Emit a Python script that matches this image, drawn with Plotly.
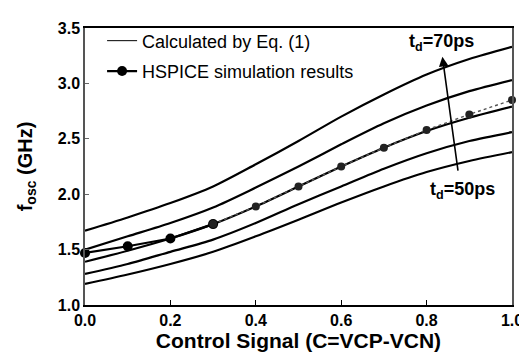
import plotly.graph_objects as go

# Control signal values
control = [0.0, 0.1, 0.2, 0.3, 0.4, 0.5, 0.6, 0.7, 0.8, 0.9, 1.0]

# Curves calculated by Eq. (1), from top (td=70ps label) to bottom (td=50ps label)
calc_1 = [1.67, 1.79, 1.92, 2.07, 2.27, 2.48, 2.70, 2.90, 3.08, 3.22, 3.33]
calc_2 = [1.50, 1.62, 1.74, 1.88, 2.06, 2.25, 2.45, 2.64, 2.80, 2.93, 3.03]
calc_3 = [1.39, 1.49, 1.60, 1.73, 1.89, 2.07, 2.25, 2.42, 2.57, 2.69, 2.79]
calc_4 = [1.28, 1.37, 1.48, 1.59, 1.74, 1.91, 2.07, 2.23, 2.37, 2.48, 2.56]
calc_5 = [1.19, 1.275, 1.37, 1.48, 1.62, 1.77, 1.925, 2.07, 2.20, 2.30, 2.38]

# HSPICE simulation results
hspice = [1.47, 1.53, 1.60, 1.73, 1.89, 2.07, 2.25, 2.42, 2.58, 2.72, 2.85]

y_ticks = [1.0, 1.5, 2.0, 2.5, 3.0, 3.5]
x_ticks = [0.0, 0.2, 0.4, 0.6, 0.8, 1.0]

FONT = "Liberation Sans, Arial, sans-serif"

fig = go.Figure()

for i, c in enumerate([calc_1, calc_2, calc_3, calc_4, calc_5]):
    fig.add_trace(go.Scatter(
        x=control, y=c, mode="lines",
        line=dict(color="black", width=2.2, shape="spline", smoothing=0.8),
        showlegend=False, hoverinfo="skip"))

# legend entry for Eq. (1) with thin line
fig.add_trace(go.Scatter(
    x=[None], y=[None], mode="lines",
    line=dict(color="black", width=1),
    name="Calculated by Eq. (1)", legendgroup="a"))

# HSPICE: heavy segment at the start, lighter afterwards
fig.add_trace(go.Scatter(
    x=control[:4], y=hspice[:4], mode="lines+markers",
    line=dict(color="black", width=2.2),
    marker=dict(color="black", size=10),
    name="HSPICE simulation results", legendgroup="b",
    cliponaxis=False))
fig.add_trace(go.Scatter(
    x=control[3:], y=hspice[3:], mode="lines+markers",
    line=dict(color="#555555", width=1.4, dash="dot"),
    marker=dict(color="#222222", size=8),
    showlegend=False, cliponaxis=False))

# arrow between td labels
fig.add_annotation(x=0.837, y=3.24, ax=0.874, ay=2.2, xref="x", yref="y",
                   axref="x", ayref="y", text="", showarrow=True,
                   arrowhead=2, arrowsize=1.2, arrowwidth=1.6, arrowcolor="black")
fig.add_annotation(x=0.835, y=3.37, xref="x", yref="y",
                   text="<b>t<sub>d</sub>=70ps</b>", showarrow=False,
                   font=dict(family=FONT, size=18, color="black"))
fig.add_annotation(x=0.885, y=2.03, xref="x", yref="y",
                   text="<b>t<sub>d</sub>=50ps</b>", showarrow=False,
                   font=dict(family=FONT, size=18, color="black"))

fig.update_layout(
    width=527, height=358,
    margin=dict(l=77, r=14, t=19, b=61),
    paper_bgcolor="white", plot_bgcolor="white",
    font=dict(family=FONT, color="black"),
    legend=dict(x=0.04, y=1.02, xanchor="left", yanchor="top",
                bgcolor="rgba(0,0,0,0)", font=dict(family=FONT, size=18),
                traceorder="grouped", tracegroupgap=4),
    xaxis=dict(range=[0, 1], tickvals=x_ticks,
               ticktext=[f"{v:.1f}" for v in x_ticks],
               ticks="inside", ticklen=5, tickcolor="black",
               showline=True, linecolor="black", linewidth=1.5, mirror=True,
               showgrid=False, zeroline=False,
               tickfont=dict(family=FONT, size=16, color="black", weight="bold"),
               title=dict(text="<b>Control Signal (C=VCP-VCN)</b>",
                          font=dict(family=FONT, size=21), standoff=4)),
    yaxis=dict(range=[1.0, 3.5], tickvals=y_ticks,
               ticktext=[f"{v:.1f}" for v in y_ticks],
               ticks="inside", ticklen=4, tickcolor="#666",
               showline=True, linecolor="#555", linewidth=1.5, mirror=True,
               showgrid=False, zeroline=False,
               tickfont=dict(family=FONT, size=16, color="black", weight="bold"),
               title=dict(text="<b>f<sub>osc</sub> (GHz)</b>",
                          font=dict(family=FONT, size=20), standoff=20)),
)

fig.write_html("out.html")
